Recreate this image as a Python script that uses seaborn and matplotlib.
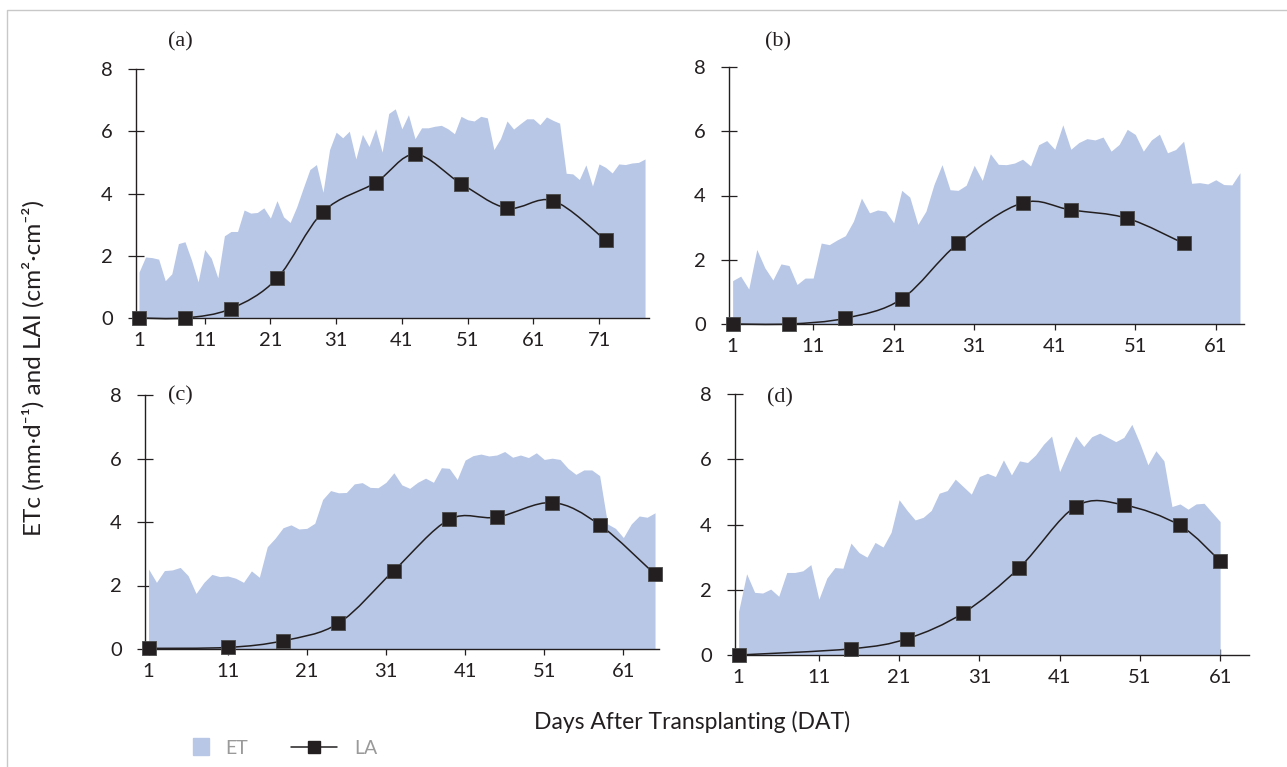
import numpy as np
import matplotlib
matplotlib.use("Agg")
import matplotlib.pyplot as plt
from matplotlib.path import Path
from matplotlib.patches import PathPatch, Patch, Rectangle
from matplotlib.lines import Line2D
from matplotlib.legend_handler import HandlerPatch
import seaborn as sns

# daily ETc (mm/d) per panel, day 1 .. n
et_a = [1.47, 1.96, 1.94, 1.89, 1.20, 1.42, 2.39, 2.45, 1.86, 1.16,
        2.20, 1.92, 1.29, 2.64, 2.78, 2.78, 3.47, 3.37, 3.39, 3.54,
        3.21, 3.77, 3.25, 3.07, 3.57, 4.18, 4.77, 4.93, 4.04, 5.41,
        5.97, 5.79, 6.00, 5.11, 5.90, 5.51, 6.08, 5.33, 6.57, 6.72,
        6.08, 6.53, 5.76, 6.11, 6.11, 6.16, 6.19, 6.08, 5.92, 6.48,
        6.37, 6.33, 6.48, 6.43, 5.41, 5.76, 6.33, 6.07, 6.24, 6.40,
        6.40, 6.21, 6.46, 6.35, 6.26, 4.65, 4.63, 4.45, 4.92, 4.24,
        4.95, 4.84, 4.66, 4.95, 4.93, 4.98, 5.00, 5.11]
et_b = [1.35, 1.49, 1.09, 2.32, 1.75, 1.37, 1.87, 1.82, 1.23, 1.43,
        1.43, 2.52, 2.47, 2.62, 2.75, 3.20, 3.92, 3.46, 3.55, 3.51,
        3.15, 4.16, 3.95, 3.10, 3.51, 4.34, 4.96, 4.18, 4.16, 4.32,
        4.94, 4.47, 5.30, 4.97, 4.96, 5.01, 5.13, 4.92, 5.58, 5.71,
        5.44, 6.20, 5.44, 5.65, 5.77, 5.73, 5.82, 5.38, 5.59, 6.06,
        5.90, 5.38, 5.73, 5.91, 5.33, 5.43, 5.69, 4.38, 4.40, 4.36,
        4.49, 4.34, 4.33, 4.71]
et_c = [2.52, 2.10, 2.47, 2.49, 2.57, 2.31, 1.75, 2.10, 2.35, 2.28,
        2.30, 2.23, 2.10, 2.46, 2.26, 3.22, 3.49, 3.82, 3.91, 3.78,
        3.80, 3.96, 4.71, 4.99, 4.92, 4.93, 5.20, 5.24, 5.09, 5.08,
        5.25, 5.55, 5.17, 5.06, 5.25, 5.38, 5.25, 5.71, 5.69, 5.34,
        5.95, 6.09, 6.14, 6.08, 6.11, 6.22, 6.04, 6.11, 6.03, 6.18,
        5.97, 6.01, 5.97, 5.69, 5.50, 5.64, 5.64, 5.46, 3.94, 3.80,
        3.51, 3.94, 4.19, 4.15, 4.29]
et_d = [1.34, 2.49, 1.92, 1.90, 2.02, 1.80, 2.53, 2.53, 2.58, 2.77,
        1.71, 2.36, 2.68, 2.66, 3.43, 3.14, 3.00, 3.45, 3.31, 3.76,
        4.76, 4.43, 4.14, 4.22, 4.43, 4.96, 5.04, 5.39, 5.16, 4.93,
        5.47, 5.57, 5.47, 5.98, 5.52, 5.95, 5.90, 6.13, 6.46, 6.71,
        5.62, 6.18, 6.71, 6.39, 6.69, 6.80, 6.67, 6.54, 6.67, 7.07,
        6.49, 5.83, 6.26, 5.95, 4.55, 4.63, 4.47, 4.63, 4.65, 4.37,
        4.09]

# leaf area index samples
la_days_a = [1, 8, 15, 22, 29, 37, 43, 50, 57, 64, 72]
la_a = [0, 0, 0.30, 1.27, 3.41, 4.35, 5.26, 4.32, 3.53, 3.77, 2.50]
la_days_b = [1, 8, 15, 22, 29, 37, 43, 50, 57]
la_b = [0, 0, 0.18, 0.78, 2.51, 3.77, 3.55, 3.29, 2.51]
la_days_c = [1, 11, 18, 25, 32, 39, 45, 52, 58, 65]
la_c = [0.02, 0.05, 0.26, 0.81, 2.47, 4.08, 4.15, 4.61, 3.91, 2.35]
la_days_d = [1, 15, 22, 29, 36, 43, 49, 56, 61]
la_d = [0, 0.19, 0.50, 1.29, 2.68, 4.55, 4.60, 3.97, 2.88]

panel_names = ["(a)", "(b)", "(c)", "(d)"]
y_ticks = [0, 2, 4, 6, 8]

FILL = "#b8c7e6"
INK = "#231f20"
W, H = 1287, 767


def smooth_path(x, y):
    # excel-like smoothed line (catmull-rom as cubic bezier)
    pts = np.column_stack([x, y]).astype(float)
    n = len(pts)
    verts = [pts[0]]
    codes = [Path.MOVETO]
    for i in range(n - 1):
        p0 = pts[max(i - 1, 0)]
        p1 = pts[i]
        p2 = pts[i + 1]
        p3 = pts[min(i + 2, n - 1)]
        verts += [p1 + (p2 - p0) / 6, p2 - (p3 - p1) / 6, p2]
        codes += [Path.CURVE4] * 3
    return Path(verts, codes)


def narrow_patch(legend, orig_handle, xdescent, ydescent, width, height, fontsize):
    w, h = 11, 12
    return Rectangle((-xdescent + width - w, -ydescent + (height - h) / 2), w, h)


sns.set_theme(style="white")
plt.rcParams["font.family"] = ["Lato", "DejaVu Sans"]

fig = plt.figure(figsize=(W / 100, H / 100), dpi=100)

# axes boxes in pixels: x0, x1, top, bottom
boxes = [(136, 649, 69, 318), (729, 1244, 67, 324),
         (145, 659, 395, 649), (735, 1249, 394, 655)]
xlims = [(0.55, 78.6), (0.55, 64.5), (0.55, 65.5), (0.55, 64.6)]
label_pos = [(0.086, 1.108), (0.095, 1.097), (0.068, 0.996), (0.088, 0.985)]
ets = [et_a, et_b, et_c, et_d]
la_days = [la_days_a, la_days_b, la_days_c, la_days_d]
las = [la_a, la_b, la_c, la_d]

for i in range(4):
    x0, x1, top, bot = boxes[i]
    ax = fig.add_axes([x0 / W, 1 - bot / H, (x1 - x0) / W, (bot - top) / H])
    days = np.arange(1, len(ets[i]) + 1)
    ax.fill_between(days, ets[i], 0, color=FILL, lw=0, zorder=1)
    ax.add_patch(PathPatch(smooth_path(la_days[i], las[i]), facecolor="none",
                           edgecolor=INK, lw=1.1, zorder=3, clip_on=False))
    sns.scatterplot(x=la_days[i], y=las[i], marker="s", s=100, color=INK,
                    edgecolor="#4a4a4a", linewidth=0.6, ax=ax, zorder=4, clip_on=False)
    ax.set_xlim(*xlims[i])
    ax.set_ylim(0, 8)
    ax.set_xticks(list(range(1, int(xlims[i][1]), 10)))
    ax.set_yticks(y_ticks)
    ax.set_xlabel("")
    ax.set_ylabel("")
    for s in ["top", "right"]:
        ax.spines[s].set_visible(False)
    for s in ["left", "bottom"]:
        ax.spines[s].set_color(INK)
        ax.spines[s].set_linewidth(1.0)
    ax.tick_params(axis="y", direction="inout", length=11.5, width=0.9,
                   color=INK, labelsize=14.5, labelcolor=INK, pad=11, left=True)
    ax.tick_params(axis="x", direction="inout", length=8.5, width=0.9,
                   color=INK, labelsize=14.5, labelcolor=INK, pad=6, bottom=True)
    ax.text(label_pos[i][0], label_pos[i][1], panel_names[i], transform=ax.transAxes,
            ha="center", va="center", fontsize=16, color=INK,
            family=["Liberation Serif", "DejaVu Serif"])

fig.text(33 / W, 1 - 368 / H, "ETc (mm·d⁻¹) and LAI (cm²·cm⁻²)", rotation=90,
         ha="center", va="center", fontsize=17.5, color=INK)
fig.text(692 / W, 1 - 722 / H, "Days After Transplanting (DAT)",
         ha="center", va="center", fontsize=16.5, color=INK)

handles = [Patch(color=FILL),
           Line2D([], [], color=INK, marker="s", markersize=8, lw=1.1)]
fig.legend(handles, ["ET", "LA"], loc="center left",
           bbox_to_anchor=(162 / W, 1 - 748 / H), frameon=False, ncol=2,
           fontsize=14, labelcolor="#9a9a9a", handlelength=2.4,
           handletextpad=0.85, columnspacing=2.2, borderpad=0, borderaxespad=0,
           handler_map={Patch: HandlerPatch(patch_func=narrow_patch)})

# thin frame around the figure
fig.add_artist(Line2D([7 / W, 7 / W, 1], [0, 1 - 10 / H, 1 - 10 / H],
                      transform=fig.transFigure, color="#c8c8c8", lw=1.0))

fig.savefig("out.png", dpi=100)
